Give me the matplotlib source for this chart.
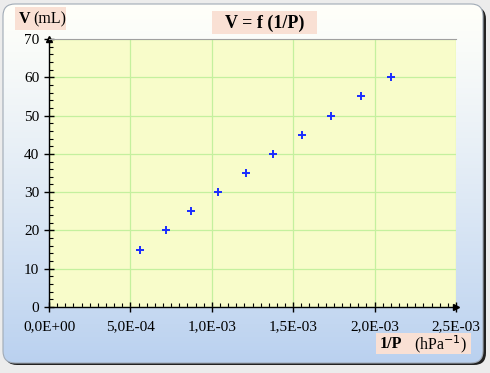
import matplotlib
matplotlib.use("Agg")
import matplotlib.pyplot as plt
import numpy as np
from matplotlib.patches import FancyBboxPatch, Rectangle
from matplotlib.ticker import MultipleLocator, FuncFormatter

# data
inv_p = [5.61e-4, 7.17e-4, 8.75e-4, 1.036e-3, 1.208e-3,
         1.374e-3, 1.552e-3, 1.735e-3, 1.919e-3, 2.103e-3]
volume = [15, 20, 25, 30, 35, 40, 45, 50, 55, 60]

W, H = 490, 373
fig = plt.figure(figsize=(W / 100, H / 100), dpi=100)
fig.patch.set_facecolor("#ececec")

# background panel with gradient and shadow
bg = fig.add_axes([0, 0, 1, 1])
bg.set_xlim(0, W)
bg.set_ylim(H, 0)
bg.axis("off")
shadow = FancyBboxPatch((5, 7), 481, 358, boxstyle="round,pad=0,rounding_size=12",
                        fc="#222222", ec="none")
bg.add_patch(shadow)
panel = FancyBboxPatch((3, 4), 480, 359, boxstyle="round,pad=0,rounding_size=12",
                       fc="none", ec="#a0aab6", lw=0.8)
bg.add_patch(panel)
grad = np.linspace(0, 1, 256).reshape(-1, 1)
top = np.array([1.0, 1.0, 0.98])
bot = np.array([0.73, 0.82, 0.94])
img = top + (bot - top) * (grad[..., None] ** 1.2)
im = bg.imshow(img, extent=(3, 483, 363, 4), aspect="auto", zorder=1)
im.set_clip_path(panel)
panel.set_zorder(2)

# label boxes
bg.add_patch(Rectangle((212, 11), 105, 23, fc="#f9e0d4", ec="none", zorder=3))
bg.add_patch(Rectangle((15, 7), 51, 23, fc="#f9e0d4", ec="none", zorder=3))
bg.add_patch(Rectangle((376, 333), 95, 21, fc="#f9e0d4", ec="none", zorder=3))
bg.text(264.5, 23, "V = f (1/P)", ha="center", va="center", fontsize=13,
        fontweight="bold", family="Liberation Serif", zorder=4)
bg.text(19, 19, "V", ha="left", va="center", fontsize=11.5, fontweight="bold",
        family="Liberation Serif", zorder=4)
bg.text(33, 19, "(mL)", ha="left", va="center", fontsize=11.5,
        family="Liberation Serif", zorder=4)
bg.text(380, 344, "1/P", ha="left", va="center", fontsize=11.5, fontweight="bold",
        family="Liberation Serif", zorder=4)
bg.text(414, 344, r"(hPa$^{-1}$)", ha="left", va="center", fontsize=11.5,
        family="Liberation Serif", zorder=4)

# plot area
ax = fig.add_axes([49 / W, 1 - 307 / H, (456 - 49) / W, (307 - 39) / H])
ax.set_facecolor("#f8fcca")
ax.set_xlim(0, 2.5e-3)
ax.set_ylim(0, 70)
ax.scatter(inv_p, volume, marker="+", s=32, color="#1a2cff", linewidths=1.4, zorder=5)

ax.xaxis.set_major_locator(MultipleLocator(5e-4))
ax.xaxis.set_minor_locator(MultipleLocator(5e-5))
ax.yaxis.set_major_locator(MultipleLocator(10))
ax.yaxis.set_minor_locator(MultipleLocator(2))
ax.xaxis.set_major_formatter(FuncFormatter(lambda v, _: f"{v:.1E}".replace(".", ",")))
ax.grid(True, which="major", color="#c4f09e", lw=0.9)
ax.set_axisbelow(True)

ax.spines["right"].set_visible(False)
ax.spines["top"].set_color("#a0a0a0")
ax.spines["top"].set_linewidth(0.8)
ax.spines["left"].set_linewidth(1)
ax.spines["bottom"].set_linewidth(1)
ax.tick_params(which="major", direction="inout", length=7, width=1, labelsize=11)
ax.tick_params(which="minor", direction="in", length=3, width=0.8)
ax.tick_params(axis="x", pad=6)
for lab in ax.get_xticklabels() + ax.get_yticklabels():
    lab.set_family("Liberation Serif")
ax.plot(1, 0, ">k", transform=ax.transAxes, clip_on=False, ms=4)
ax.plot(0, 1, "^k", transform=ax.transAxes, clip_on=False, ms=4)

fig.savefig("out.png", dpi=100)
